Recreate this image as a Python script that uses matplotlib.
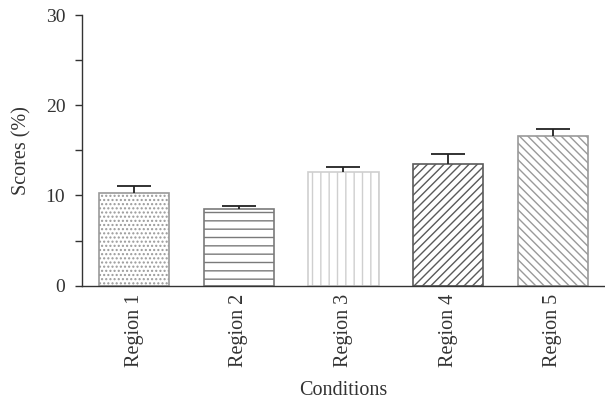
import matplotlib
matplotlib.use("Agg")
from matplotlib import pyplot as plt
import numpy as np

regions = ["Region 1", "Region 2", "Region 3", "Region 4", "Region 5"]
scores = [10.3, 8.5, 12.55, 13.5, 16.6]
errors = [0.75, 0.37, 0.6, 1.08, 0.8]

hatches = ["....", "--", "||", "////", "\\\\\\\\"]
edges = ["#9a9a9a", "#7a7a7a", "#cfcfcf", "#5a5a5a", "#9a9a9a"]

plt.rcParams["font.family"] = ["Liberation Serif", "DejaVu Serif"]
plt.rcParams["hatch.linewidth"] = 1.0
plt.rcParams["text.color"] = "#333333"
plt.rcParams["xtick.labelcolor"] = "#333333"
plt.rcParams["ytick.labelcolor"] = "#333333"
plt.rcParams["axes.labelcolor"] = "#333333"

fig = plt.figure(figsize=(6.05, 4.0), dpi=100)
ax = fig.add_axes([0.1355, 0.286, 0.8645, 0.6765])

x = np.arange(len(regions))
bars = ax.bar(x, scores, width=0.67, color="white", linewidth=1.2)
for b, h, e in zip(bars, hatches, edges):
    b.set_hatch(h)
    b.set_edgecolor(e)

# only the upper whisker and cap
eb = ax.errorbar(x, scores, yerr=[[0] * len(errors), errors], fmt="none",
                 ecolor="#222222", elinewidth=1.3, capsize=12.5, capthick=1.3)
eb[1][0].set_visible(False)

ax.set_xlim(-0.5, 4.5)
ax.set_ylim(0, 30)
ax.set_yticks([0, 10, 20, 30])
ax.set_yticks([5, 15, 25], minor=True)
ax.set_xticks(x)
ax.set_xticklabels(regions, rotation=90, fontsize=14.5)
ax.tick_params(axis="x", length=0, pad=6)
ax.tick_params(axis="y", labelsize=14, length=5, width=1, color="#333333", pad=7)
ax.tick_params(axis="y", which="minor", length=5, width=1, color="#333333")

for s in ["top", "right"]:
    ax.spines[s].set_visible(False)
for s in ["left", "bottom"]:
    ax.spines[s].set_color("#333333")
    ax.spines[s].set_linewidth(1.0)

ax.set_ylabel("Scores (%)", fontsize=14.5, labelpad=10)
ax.set_xlabel("Conditions", fontsize=14.5, labelpad=10)

fig.savefig("out.png", dpi=100)
